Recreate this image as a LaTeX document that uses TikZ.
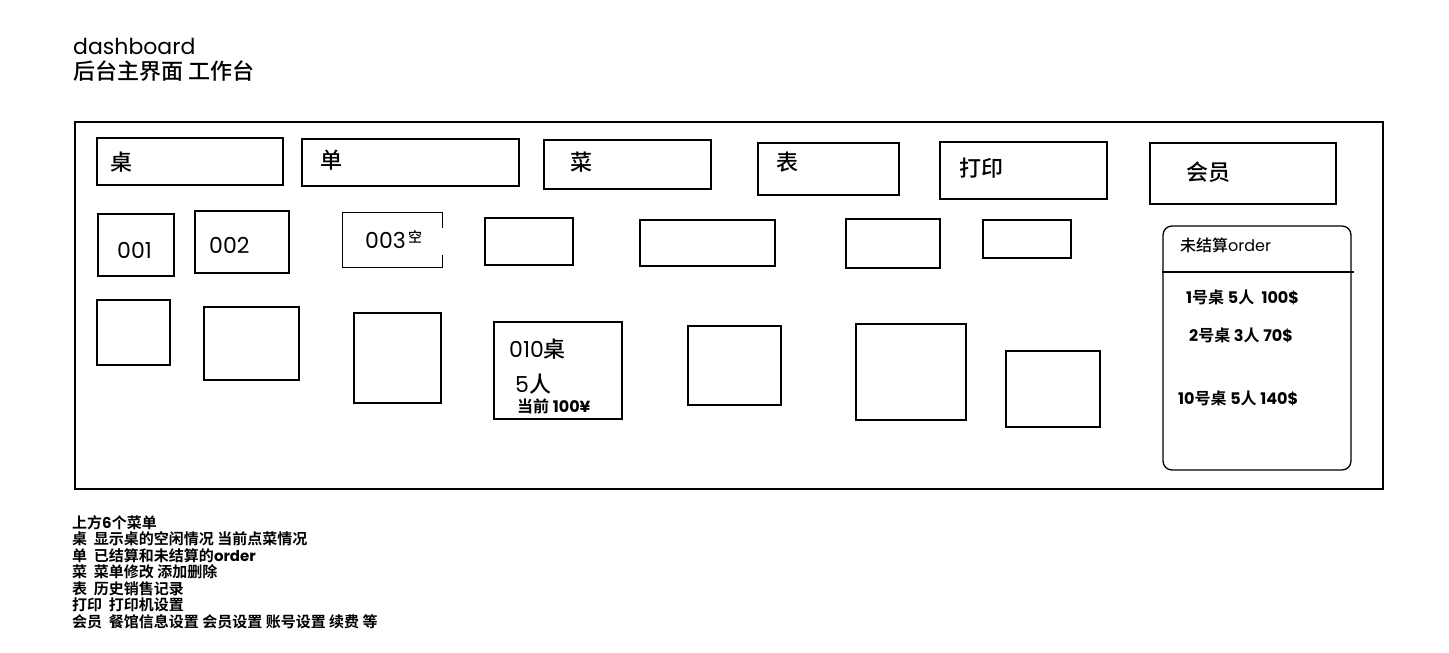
\documentclass[tikz,border=0pt]{standalone}
\usepackage{fontspec}
\setmainfont{Noto Sans CJK SC Medium}[BoldFont=Noto Sans CJK SC Bold]
\newfontfamily\geo{Poppins}
\usetikzlibrary{fit}

\begin{document}
\begin{tikzpicture}[x=1pt, y=-1pt,
  box/.style={draw, rectangle, line width=1.3pt, inner sep=0pt},
  hole/.style={rectangle, inner sep=0pt},
  big/.style={font=\fontsize{22}{26}\selectfont, inner sep=0pt, anchor=west},
  tiny/.style={font=\bfseries\fontsize{16}{16}\selectfont, inner sep=0pt, anchor=west},
  edge/.style={line width=1.3pt}
]
\useasboundingbox (0,0) rectangle (1449,653);

% Title
\node[big, anchor=base west, text depth=0pt] (title) at (73,54) {\geo dashboard};
\node[big, anchor=base west, text height=15pt] (titlecn) at (73,79) {后台主界面 工作台};

% Frame
\node[draw, line width=2.2pt, inner sep=0pt, fit={(75,122) (1383,489)}] (frame) {};

% Menu
\node[box, fit={(97,138) (283,185)}] (mzhuo) {};
\node[big] (lzhuo) at (110,162) {桌};
\node[box, fit={(302,139) (519,186)}] (mdan) {};
\node[big] (ldan) at (320,160) {单};
\node[box, fit={(544,140) (711,189)}] (mcai) {};
\node[big] (lcai) at (570,162) {菜};
\node[box, fit={(758,143) (899,195)}] (mbiao) {};
\node[big] (lbiao) at (776,162) {表};
\node[box, fit={(940,142) (1107,199)}] (mprint) {};
\node[big] (lprint) at (959,168) {打印};
\node[box, fit={(1150,143) (1336,204)}] (mvip) {};
\node[big] (lvip) at (1186,172) {会员};

% Tables, row 1
\node[box, fit={(98,214) (174,276)}] (t001) {};
\node[big] (l001) at (117,250) {\geo 001};
\node[box, fit={(195,211) (289,273)}] (t002) {};
\node[big] (l002) at (209,245) {\geo 002};
\node[hole, fit={(343,213) (442,267)}] (t003) {};
\draw[edge] (t003.north east) ++(0,15) -- (t003.north east) -- (t003.north west)
  -- (t003.south west) -- (t003.south east) -- ++(0,-12);
\node[big] (l003) at (365,240) {\geo 003};
\node[tiny, font=\fontsize{14}{16}\selectfont] (lfree) at (408,237) {空};
\node[box, fit={(485,218) (573,265)}] (t004) {};
\node[box, fit={(640,220) (775,266)}] (t005) {};
\node[box, fit={(846,219) (940,268)}] (t006) {};
\node[box, fit={(983,220) (1071,258)}] (t007) {};

% Tables, row 2
\node[box, fit={(97,300) (170,365)}] (t008) {};
\node[box, fit={(204,307) (299,380)}] (t009) {};
\node[box, fit={(354,313) (441,403)}] (t010) {};
\node[box, fit={(494,322) (622,419)}] (t011) {};
\node[big] (l011) at (509,349) {{\geo 010}桌};
\node[big] (lpeople) at (515,384) {{\geo 5}人};
\node[tiny] (lsum) at (517,406) {当前 {\geo 100¥}};
\node[box, fit={(688,326) (781,405)}] (t012) {};
\node[box, fit={(856,324) (966,420)}] (t013) {};
\node[box, fit={(1006,351) (1100,427)}] (t014) {};

% Open orders
\node[box, rounded corners=9pt, fit={(1163,226) (1351,470)}] (orders) {};
\coordinate (sepend) at (1354,272);
\draw[edge] (orders.west |- sepend) -- (sepend);
\node[tiny, font=\fontsize{16}{16}\selectfont] (lorders) at (1180,245) {未结算{\geo order}};
\node[tiny] (o1) at (1186,297) {{\geo 1}号桌 {\geo 5}人~~{\geo 100\$}};
\node[tiny] (o2) at (1189,335) {{\geo 2}号桌 {\geo 3}人 {\geo 70\$}};
\node[tiny] (o3) at (1178,398) {{\geo 10}号桌 {\geo 5}人 {\geo 140\$}};

% Notes
\node[tiny, font=\bfseries\fontsize{15}{16.5}\selectfont, anchor=north west, align=left] (notes) at (72,515) {%
  上方{\geo 6}个菜单\\
  桌~~显示桌的空闲情况 当前点菜情况\\
  单~~已结算和未结算的{\geo order}\\
  菜~~菜单修改 添加删除\\
  表~~历史销售记录\\
  打印~~打印机设置\\
  会员~~餐馆信息设置 会员设置 账号设置 续费 等};

\end{tikzpicture}
\end{document}
